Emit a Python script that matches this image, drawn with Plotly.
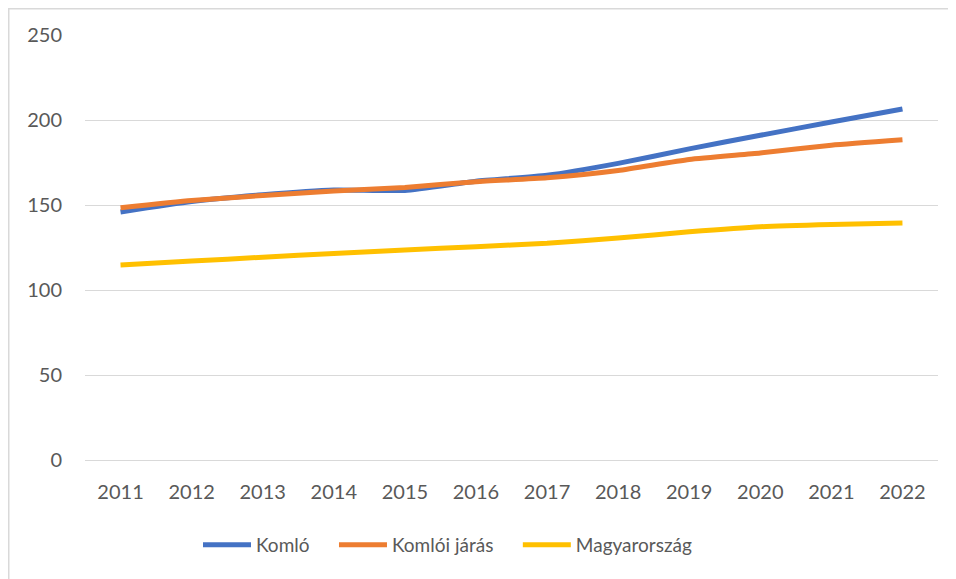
import plotly.graph_objects as go

years = ["2011", "2012", "2013", "2014", "2015", "2016", "2017", "2018", "2019", "2020", "2021", "2022"]
komlo = [145.9, 152.0, 156.0, 158.8, 158.6, 164.0, 167.5, 174.5, 183.0, 191.0, 198.8, 206.5]
komloi_jaras = [148.4, 152.6, 155.6, 158.2, 160.3, 163.7, 166.0, 170.3, 176.8, 180.6, 185.2, 188.4]
magyarorszag = [114.7, 117.0, 119.3, 121.5, 123.5, 125.5, 127.5, 130.6, 134.2, 137.2, 138.5, 139.4]
y_ticks = [0, 50, 100, 150, 200, 250]

series = [
    ("Komló", komlo, "#4472C4"),
    ("Komlói járás", komloi_jaras, "#ED7D31"),
    ("Magyarország", magyarorszag, "#FFC000"),
]

PAD = "\u00a0" * 4

fig = go.Figure()
for name, vals, color in series:
    fig.add_trace(go.Scatter(
        x=years, y=vals, name=name + PAD, mode="lines",
        line=dict(color=color, width=5, shape="spline", smoothing=0.5),
    ))

# page body has an 8px margin: figure coords = screen coords - 8
W, H = 948, 571
ml, mr, mt, mb = 77, 18, 27, 119
pw, ph = W - ml - mr, H - mt - mb

font = dict(family="Lato, 'Open Sans', sans-serif", size=20, color="#595959")
lfont = dict(family="Lato, 'Open Sans', sans-serif", size=19, color="#595959")

fig.update_layout(
    width=W, height=H,
    margin=dict(l=ml, r=mr, t=mt, b=mb, autoexpand=False),
    paper_bgcolor="white", plot_bgcolor="white",
    font=font,
    showlegend=True,
    legend=dict(
        orientation="h", x=(190 - ml) / pw, xanchor="left",
        y=-(537 - (mt + ph)) / ph, yanchor="middle",
        font=lfont, itemwidth=48, bgcolor="rgba(0,0,0,0)",
    ),
    xaxis=dict(
        type="category", range=[-0.5, 11.5], showgrid=False, zeroline=False,
        showline=True, linecolor="#D9D9D9", linewidth=1,
        ticks="", ticklabelstandoff=14, tickfont=font,
    ),
    yaxis=dict(
        range=[0, 250], tickvals=y_ticks, ticktext=[str(v) for v in y_ticks],
        showgrid=True, gridcolor="#D9D9D9", gridwidth=1, zeroline=False,
        showline=False, ticks="", ticklabelstandoff=22, tickfont=font,
    ),
    shapes=[dict(
        type="rect", xref="paper", yref="paper",
        x0=(0.75 - ml) / pw, x1=(W + 20 - ml) / pw,
        y0=-(H + 20 - (mt + ph)) / ph, y1=1 + (mt - 0.75) / ph,
        line=dict(color="#D9D9D9", width=1.5), fillcolor="rgba(0,0,0,0)", layer="below",
    )],
)

fig.write_html("out.html")
